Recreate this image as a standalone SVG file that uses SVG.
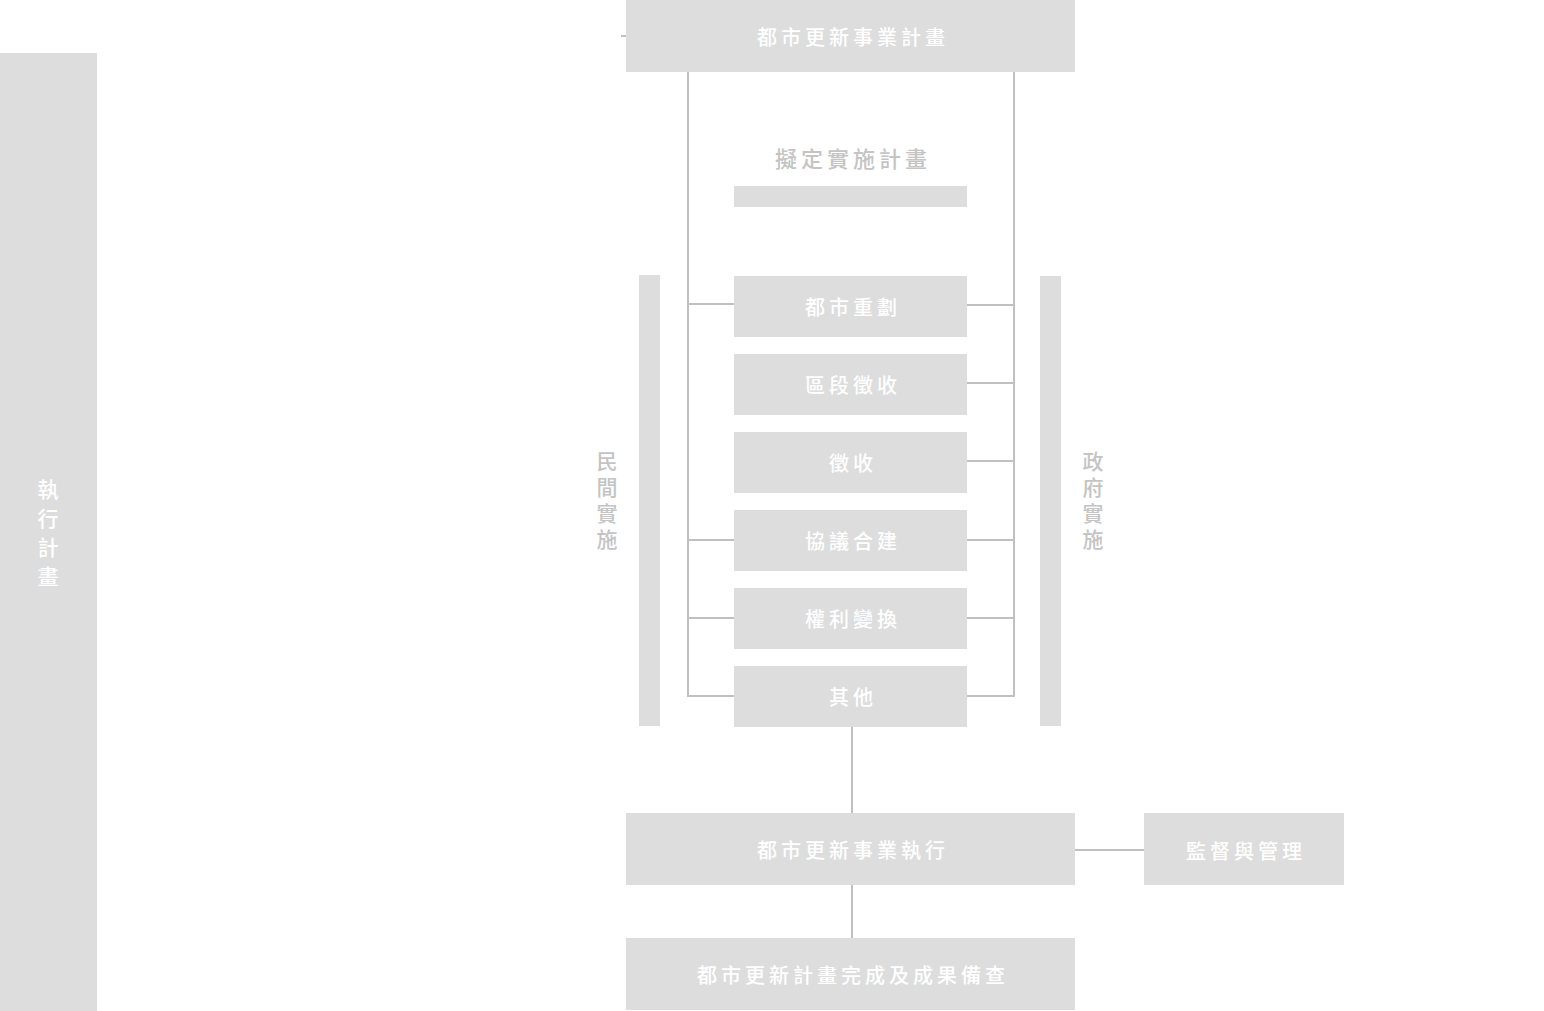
<svg xmlns="http://www.w3.org/2000/svg" width="1544" height="1011" viewBox="0 0 1544 1011">
<style>
.box{fill:#dddddd}
.lbl{fill:#ffffff;font-family:"Noto Sans CJK TC","Noto Sans CJK SC",sans-serif;font-size:20px;font-weight:500;letter-spacing:4px;text-anchor:middle;dominant-baseline:central}
.side{fill:#c4c4c4;font-family:"Noto Sans CJK TC","Noto Sans CJK SC",sans-serif;font-size:21px;text-anchor:middle;dominant-baseline:central;font-weight:500}
.vert{writing-mode:vertical-rl;letter-spacing:5px;text-orientation:upright}
.vl{fill:#ffffff;font-family:"Noto Sans CJK TC","Noto Sans CJK SC",sans-serif;font-size:21px;font-weight:500;text-anchor:middle;writing-mode:vertical-rl;text-orientation:upright;letter-spacing:8px}
.ln{stroke:#c0c0c0;stroke-width:2;fill:none}
</style>
<rect width="1544" height="1011" fill="#ffffff"/>
<g id="connectors">
<line class="ln" x1="621" y1="36" x2="626" y2="36"/>
<line class="ln" x1="688" y1="72" x2="688" y2="696"/>
<line class="ln" x1="1014" y1="72" x2="1014" y2="696"/>
<line class="ln" x1="687" y1="304" x2="734" y2="304"/>
<line class="ln" x1="687" y1="540" x2="734" y2="540"/>
<line class="ln" x1="687" y1="618" x2="734" y2="618"/>
<line class="ln" x1="687" y1="696" x2="734" y2="696"/>
<line class="ln" x1="967" y1="305" x2="1015" y2="305"/>
<line class="ln" x1="967" y1="383" x2="1015" y2="383"/>
<line class="ln" x1="967" y1="461" x2="1015" y2="461"/>
<line class="ln" x1="967" y1="540" x2="1015" y2="540"/>
<line class="ln" x1="967" y1="618" x2="1015" y2="618"/>
<line class="ln" x1="967" y1="696" x2="1015" y2="696"/>
<line class="ln" x1="852" y1="727" x2="852" y2="813"/>
<line class="ln" x1="1075" y1="850" x2="1144" y2="850"/>
<line class="ln" x1="852" y1="885" x2="852" y2="938"/>
</g>
<g id="exec-plan">
<rect class="box" x="0" y="53" width="97" height="958"/>
<text class="vl" x="48" y="537">執行計畫</text>
</g>
<g id="plan">
<rect class="box" x="626" y="0" width="449" height="72"/>
<text class="lbl" x="853" y="36">都市更新事業計畫</text>
</g>
<g id="draft">
<text class="side" x="853" y="157" style="letter-spacing:4px;font-size:22px">擬定實施計畫</text>
<rect class="box" x="734" y="186" width="233" height="21"/>
</g>
<g id="private">
<rect class="box" x="639" y="275" width="21" height="451"/>
<text class="side vert" x="607" y="503">民間實施</text>
</g>
<g id="public">
<rect class="box" x="1040" y="276" width="21" height="450"/>
<text class="side vert" x="1093" y="503">政府實施</text>
</g>
<g id="opt1"><rect class="box" x="734" y="276" width="233" height="61"/><text class="lbl" x="853" y="306">都市重劃</text></g>
<g id="opt2"><rect class="box" x="734" y="354" width="233" height="61"/><text class="lbl" x="853" y="384">區段徵收</text></g>
<g id="opt3"><rect class="box" x="734" y="432" width="233" height="61"/><text class="lbl" x="853" y="462">徵收</text></g>
<g id="opt4"><rect class="box" x="734" y="510" width="233" height="61"/><text class="lbl" x="853" y="540">協議合建</text></g>
<g id="opt5"><rect class="box" x="734" y="588" width="233" height="61"/><text class="lbl" x="853" y="618">權利變換</text></g>
<g id="opt6"><rect class="box" x="734" y="666" width="233" height="61"/><text class="lbl" x="853" y="696">其他</text></g>
<g id="execute">
<rect class="box" x="626" y="813" width="449" height="72"/>
<text class="lbl" x="853" y="849">都市更新事業執行</text>
</g>
<g id="supervise">
<rect class="box" x="1144" y="813" width="200" height="72"/>
<text class="lbl" x="1246" y="850">監督與管理</text>
</g>
<g id="complete">
<rect class="box" x="626" y="938" width="449" height="72"/>
<text class="lbl" x="853" y="974">都市更新計畫完成及成果備查</text>
</g>
</svg>
